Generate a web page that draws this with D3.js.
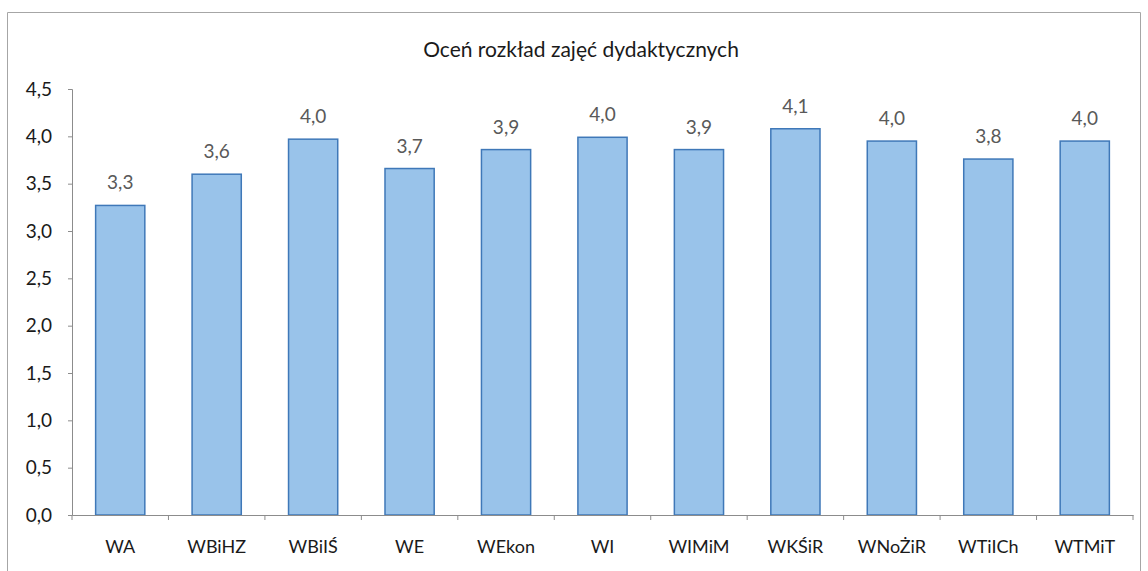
<!DOCTYPE html>
<html>
<head>
<meta charset="utf-8">
<script src="https://cdn.jsdelivr.net/npm/d3@7/dist/d3.min.js"></script>
<style>
  body { margin: 0; background: #fff; }
  svg text { font-family: Lato, "Open Sans", sans-serif; }
</style>
</head>
<body>
<svg id="chart" width="1148" height="571"></svg>
<script>
// dane
var categories = ["WA", "WBiHZ", "WBiIŚ", "WE", "WEkon", "WI", "WIMiM", "WKŚiR", "WNoŻiR", "WTiICh", "WTMiT"];
var values = [3.27, 3.60, 3.97, 3.66, 3.86, 3.99, 3.86, 4.08, 3.95, 3.76, 3.95];
var yTicks = [0, 0.5, 1, 1.5, 2, 2.5, 3, 3.5, 4, 4.5];
var title = "Oceń rozkład zajęć dydaktycznych";

var svg = d3.select("#chart");
var margin = { top: 89, left: 72 };
var innerWidth = 1133 - margin.left;
var innerHeight = 515 - margin.top;

// ramka wykresu (dół poza kadrem)
svg.append("path")
  .attr("d", "M7.5,571V12.5H1140.5V571")
  .attr("fill", "none")
  .attr("stroke", "#a6a6a6");

// tytuł
svg.append("text")
  .attr("x", 581).attr("y", 57)
  .attr("text-anchor", "middle")
  .style("font-size", "21px")
  .attr("fill", "#1a1a1a")
  .text(title);

var g = svg.append("g")
  .attr("transform", "translate(" + margin.left + "," + margin.top + ")");

var x = d3.scaleBand()
  .domain(categories)
  .range([0, innerWidth])
  .paddingInner(0.49)
  .paddingOuter(0.245);

var y = d3.scaleLinear()
  .domain([0, 4.5])
  .range([innerHeight, 0]);

var fmt = function(v) { return d3.format(".1f")(v).replace(".", ","); };

// oś Y
var yAxis = g.append("g")
  .call(d3.axisLeft(y).tickValues(yTicks).tickSize(4).tickPadding(16).tickFormat(fmt));
yAxis.select(".domain").attr("stroke", "#8c8c8c");
yAxis.selectAll(".tick line").attr("stroke", "#8c8c8c");
yAxis.selectAll("text").style("font-size", "19px").attr("fill", "#1a1a1a");

// słupki
g.append("g")
  .selectAll("rect")
  .data(values)
  .enter()
  .append("rect")
  .attr("x", function(d, i) { return x(categories[i]); })
  .attr("y", function(d) { return y(d); })
  .attr("width", x.bandwidth())
  .attr("height", function(d) { return innerHeight - y(d); })
  .attr("fill", "#99c3ea")
  .attr("stroke", "#3f78b8")
  .attr("stroke-width", 1.5);

// etykiety wartości
g.append("g")
  .selectAll("text")
  .data(values)
  .enter()
  .append("text")
  .attr("x", function(d, i) { return x(categories[i]) + x.bandwidth() / 2; })
  .attr("y", function(d) { return y(d) - 16; })
  .attr("text-anchor", "middle")
  .style("font-size", "19px")
  .attr("fill", "#595959")
  .text(function(d) { return fmt(d); });

// oś X
var xAxis = g.append("g")
  .attr("transform", "translate(0," + innerHeight + ")")
  .call(d3.axisBottom(x).tickSize(0).tickPadding(25));
xAxis.select(".domain").attr("stroke", "#8c8c8c");
xAxis.selectAll("text").style("font-size", "18px").attr("fill", "#1a1a1a");

// znaczniki między kategoriami
g.append("g")
  .selectAll("line")
  .data(d3.range(categories.length + 1))
  .enter()
  .append("line")
  .attr("x1", function(i) { return i * x.step(); })
  .attr("x2", function(i) { return i * x.step(); })
  .attr("y1", innerHeight)
  .attr("y2", innerHeight + 5)
  .attr("stroke", "#8c8c8c");
</script>
</body>
</html>
